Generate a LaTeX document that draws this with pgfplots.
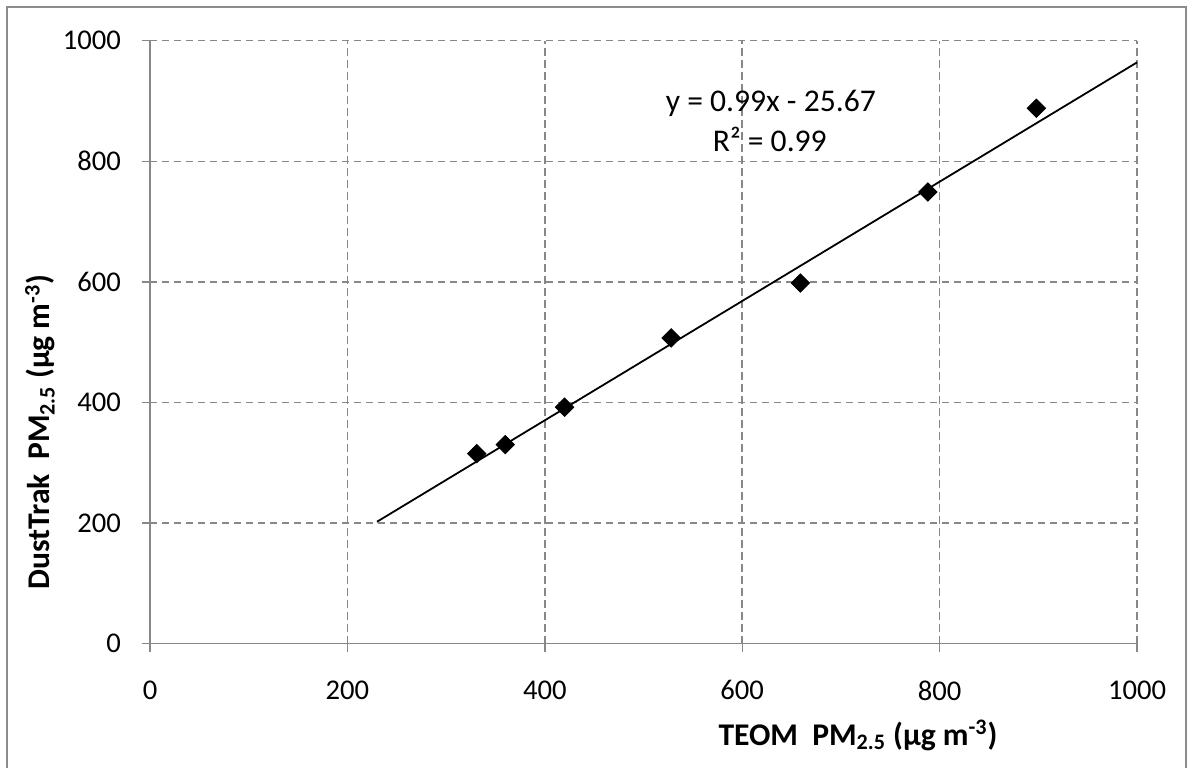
\documentclass[border=0pt]{standalone}
\usepackage{fontspec}
\setmainfont{Carlito}
\usepackage{pgfplots}
\pgfplotsset{compat=1.18}
\definecolor{gridgrey}{HTML}{878787}
\definecolor{framegrey}{HTML}{8C8C8C}

\newcommand{\tickfont}{\fontsize{14.3}{17}\selectfont}
\newcommand{\chartfont}{\fontsize{15.8}{19}\selectfont}

\begin{document}
\begin{tikzpicture}
% canvas: 1 px of the reference = 0.5pt, axis origin at (0,0)
\path[use as bounding box] (-75pt,-61.75pt) rectangle (521pt,321.75pt);
\draw[framegrey, line width=0.8pt] (-71.5pt,-63pt) -- (-71.5pt,318.25pt)
  -- (518pt,318.25pt) -- (518pt,-63pt);
\begin{axis}[
  at={(0,0)}, anchor=south west,
  scale only axis, width=493.5pt, height=301.4pt,
  xmin=0, xmax=1000, ymin=0, ymax=1000,
  xtick={0,200,...,1000}, ytick={0,200,...,1000},
  axis x line=bottom, axis y line=left,
  axis line style={draw=gridgrey, line width=0.7pt, -},
  tick align=outside, major tick length=4pt,
  tick style={draw=gridgrey, line width=0.7pt},
  grid=major,
  major grid style={draw=gridgrey, line width=0.75pt, dash pattern=on 3.6pt off 2.4pt},
  ticklabel style={font=\tickfont},
  xticklabel style={yshift=-11pt},
  yticklabel style={xshift=-7pt},
  /pgf/number format/assume math mode=true,
  /pgf/number format/set thousands separator={},
  clip=false,
]
\addplot[only marks, mark=square*, mark size=3.25pt,
  mark options={rotate=45, fill=black, draw=black}]
  coordinates {(331,315) (360,330) (420,392) (528,507) (659,598) (788,749) (898,888)};
\addplot[black, line width=0.9pt] coordinates {(230,202) (1000,964)};
\node[anchor=base, font=\chartfont] at (axis cs:629,882) {y = 0.99x - 25.67};
\node[anchor=base, font=\chartfont] at (axis cs:628,817) {R² = 0.99};
\end{axis}
\node[anchor=base, font=\bfseries\chartfont] at (354pt,-50.75pt)
  {TEOM\ \ PM\textsubscript{2.5} (µg m\textsuperscript{-3})};
\node[rotate=90, anchor=base, font=\bfseries\chartfont] at (-50pt,105.75pt)
  {DustTrak\ \ PM\textsubscript{2.5} (µg m\textsuperscript{-3})};
\end{tikzpicture}
\end{document}
